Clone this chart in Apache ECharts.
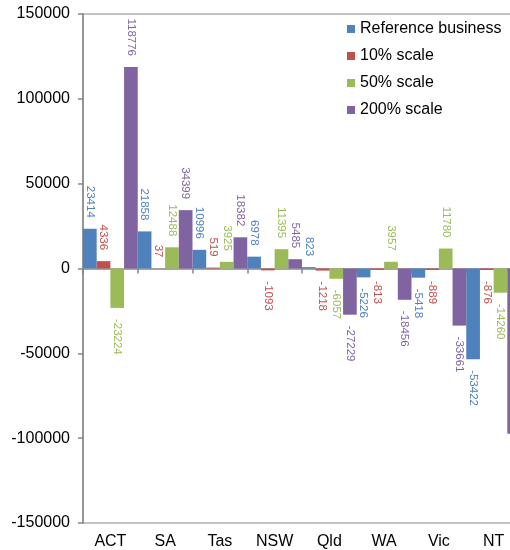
<!DOCTYPE html>
<html>
<head>
<meta charset="utf-8">
<script src="https://cdn.jsdelivr.net/npm/echarts@6/dist/echarts.min.js"></script>
<style>
  html, body { margin: 0; padding: 0; background: #fff; }
  #chart { width: 510px; height: 550px; }
</style>
</head>
<body>
<div id="chart"></div>
<script>
// States along the category axis
const states = ['ACT', 'SA', 'Tas', 'NSW', 'Qld', 'WA', 'Vic', 'NT'];

// Change per state for each business scale
const referenceBusiness = [23414, 21858, 10996, 6978, 823, -5226, -5418, -53422];
const scale10 = [4336, 37, 519, -1093, -1218, -813, -889, -876];
const scale50 = [-23224, 12488, 3925, 11395, -6057, 3957, 11780, -14260];
const scale200 = [118776, 34399, 18382, 5485, -27229, -18456, -33661, -97450];

const seriesNames = ['Reference business', '10% scale', '50% scale', '200% scale'];
const seriesValues = [referenceBusiness, scale10, scale50, scale200];
const seriesColors = ['#4F81BD', '#C0504D', '#9BBB59', '#8064A2'];

const FONT = '"Liberation Sans", Arial, sans-serif';
const AXIS_GREY = '#868686';

// Vertical value labels: above positive bars, below negative ones
function buildData(values, color) {
  return values.map(function (v) {
    const up = v >= 0;
    return {
      value: v,
      label: {
        show: true,
        position: up ? 'top' : 'bottom',
        rotate: -90,
        align: up ? 'right' : 'left',
        verticalAlign: 'middle',
        distance: 11,
        color: color,
        fontSize: 11.5,
        fontFamily: FONT
      }
    };
  });
}

const chart = echarts.init(document.getElementById('chart'), null, { renderer: 'canvas' });

chart.setOption({
  animation: false,
  backgroundColor: '#ffffff',
  grid: {
    left: 83,
    top: 14,
    width: 438,
    height: 509,
    outerBoundsMode: 'none',
    containLabel: false,
    show: true,
    borderColor: AXIS_GREY,
    borderWidth: 1,
    backgroundColor: 'transparent'
  },
  legend: {
    orient: 'vertical',
    left: 347,
    top: 21,
    padding: 0,
    itemWidth: 8,
    itemHeight: 8,
    itemGap: 11,
    icon: 'rect',
    data: seriesNames,
    textStyle: { fontSize: 16, fontFamily: FONT, color: '#000', lineHeight: 16 }
  },
  xAxis: [
    {
      // zero line with category boundary ticks
      type: 'category',
      data: states,
      position: 'bottom',
      axisLine: { onZero: true, lineStyle: { color: AXIS_GREY, width: 1.5 } },
      axisTick: { show: true, length: 5, lineStyle: { color: AXIS_GREY, width: 1.5 } },
      axisLabel: { show: false },
      splitLine: { show: false }
    },
    {
      // state names along the bottom edge
      type: 'category',
      data: states,
      position: 'bottom',
      axisLine: { show: false, onZero: false },
      axisTick: { show: false },
      axisLabel: { show: true, fontSize: 16, fontFamily: FONT, color: '#000', margin: 11 },
      splitLine: { show: false }
    }
  ],
  yAxis: {
    type: 'value',
    min: -150000,
    max: 150000,
    interval: 50000,
    axisLine: { show: true, lineStyle: { color: AXIS_GREY, width: 1.5 } },
    axisTick: { show: true, length: 5, lineStyle: { color: AXIS_GREY, width: 1.5 } },
    axisLabel: {
      fontSize: 16, fontFamily: FONT, color: '#000', margin: 13,
      formatter: function (v) { return String(v); }
    },
    splitLine: { show: false }
  },
  series: seriesNames.map(function (name, i) {
    return {
      name: name,
      type: 'bar',
      xAxisIndex: 0,
      barGap: '0%',
      barCategoryGap: '0%',
      itemStyle: { color: seriesColors[i] },
      data: buildData(seriesValues[i], seriesColors[i])
    };
  })
});
</script>
</body>
</html>
